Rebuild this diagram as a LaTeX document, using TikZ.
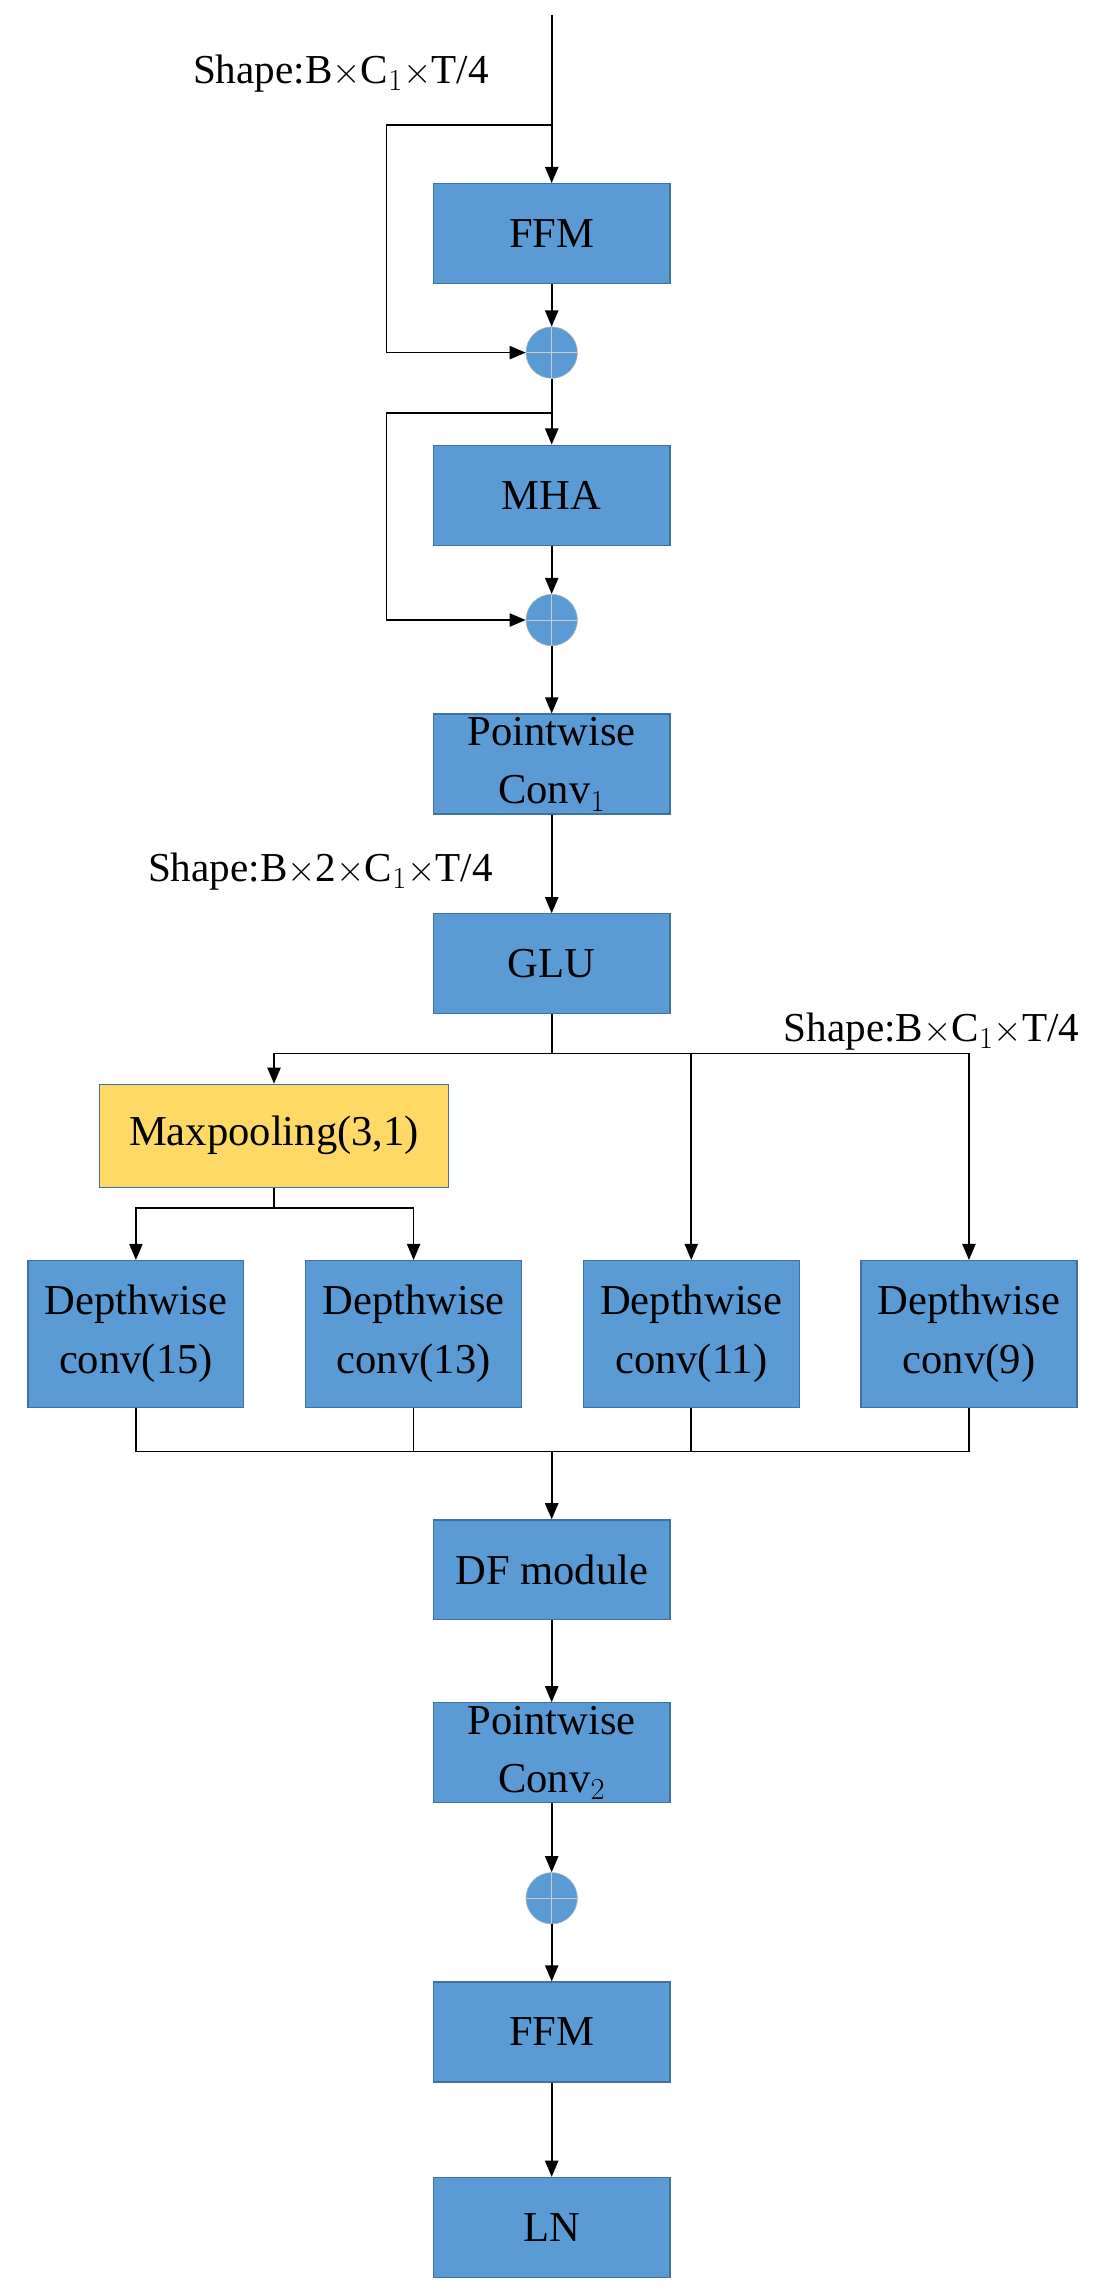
\documentclass[tikz,border=0pt]{standalone}
\usepackage{fontspec}
\setmainfont{Liberation Serif}
\usetikzlibrary{arrows.meta}
\definecolor{bl}{HTML}{5B9BD5}
\definecolor{bd}{HTML}{41719C}
\definecolor{yl}{HTML}{FFD966}
\begin{document}
\begin{tikzpicture}[x=1pt,y=-1pt,
  box/.style={draw=bd,fill=bl,line width=0.8pt,minimum width=161pt,minimum height=68pt,align=center,font=\fontsize{29}{40}\selectfont,inner sep=0pt},
  dbox/.style={box,minimum width=147pt,minimum height=100pt},
  sum/.style={circle,fill=bl,draw=gray!60,minimum size=35pt,inner sep=0pt,
    path picture={\draw[gray!40,line width=0.6pt] (path picture bounding box.north)--(path picture bounding box.south) (path picture bounding box.west)--(path picture bounding box.east);}},
  ln/.style={line width=1.2pt},
  ar/.style={ln,-{Triangle[length=11pt,width=9pt]}},
  lab/.style={font=\fontsize{28}{32}\selectfont,inner sep=0pt}]
\useasboundingbox (0,0) rectangle (750,1560);
\node[box] (ffm) at (375.5,159) {FFM};
\node[sum] (s1) at (375.5,240) {};
\node[box] (mha) at (375.5,337) {MHA};
\node[sum] (s2) at (375.5,422) {};
\node[box] (pw1) at (375.5,520) {Pointwise\\Conv$_1$};
\node[box] (glu) at (375.5,656) {GLU};
\node[box,fill=yl,minimum width=237pt,minimum height=70pt] (mp) at (186.5,773) {Maxpooling(3,1)};
\node[dbox] (d1) at (92.5,908) {Depthwise\\conv(15)};
\node[dbox] (d2) at (281.5,908) {Depthwise\\conv(13)};
\node[dbox] (d3) at (470.5,908) {Depthwise\\conv(11)};
\node[dbox] (d4) at (659.5,908) {Depthwise\\conv(9)};
\node[box] (df) at (375.5,1068.5) {DF module};
\node[box] (pw2) at (375.5,1193) {Pointwise\\Conv$_2$};
\node[sum] (s3) at (375.5,1292) {};
\node[box] (ffm2) at (375.5,1383) {FFM};
\node[box] (lnn) at (375.5,1516) {LN};
\coordinate (top) at (375.5,10);
\coordinate (j1) at (375.5,85);
\coordinate (j2) at (375.5,281);
\node[lab] (l1) at (232,50) {Shape:B$\times$C$_1\times$T/4};
\node[lab] (l2) at (218,593) {Shape:B$\times$2$\times$C$_1\times$T/4};
\node[lab] (l3) at (634,702) {Shape:B$\times$C$_1\times$T/4};
\draw[ar] (top) -- (ffm);
\draw[ar] (j1) -| (263,240) -- (s1);
\draw[ar] (ffm) -- (s1);
\draw[ar] (s1) -- (mha);
\draw[ar] (j2) -| (263,422) -- (s2);
\draw[ar] (mha) -- (s2);
\draw[ar] (s2) -- (pw1);
\draw[ar] (pw1) -- (glu);
\coordinate (g) at (375.5,717);
\draw[ln] (glu) -- (g);
\draw[ar] (g) -| (mp.north);
\draw[ar] (g) -| (d3.north);
\draw[ar] (g) -| (d4.north);
\coordinate (m) at (186.5,822);
\draw[ln] (mp.south) -- (m);
\draw[ar] (m) -| (d1.north);
\draw[ar] (m) -| (d2.north);
\coordinate (b) at (375.5,988);
\draw[ln] (d1.south) |- (b);
\draw[ln] (d4.south) |- (b);
\draw[ln] (d2.south) -- (d2.south|-b);
\draw[ln] (d3.south) -- (d3.south|-b);
\draw[ar] (b) -- (df);
\draw[ar] (df) -- (pw2);
\draw[ar] (pw2) -- (s3);
\draw[ar] (s3) -- (ffm2);
\draw[ar] (ffm2) -- (lnn);
\end{tikzpicture}
\end{document}
